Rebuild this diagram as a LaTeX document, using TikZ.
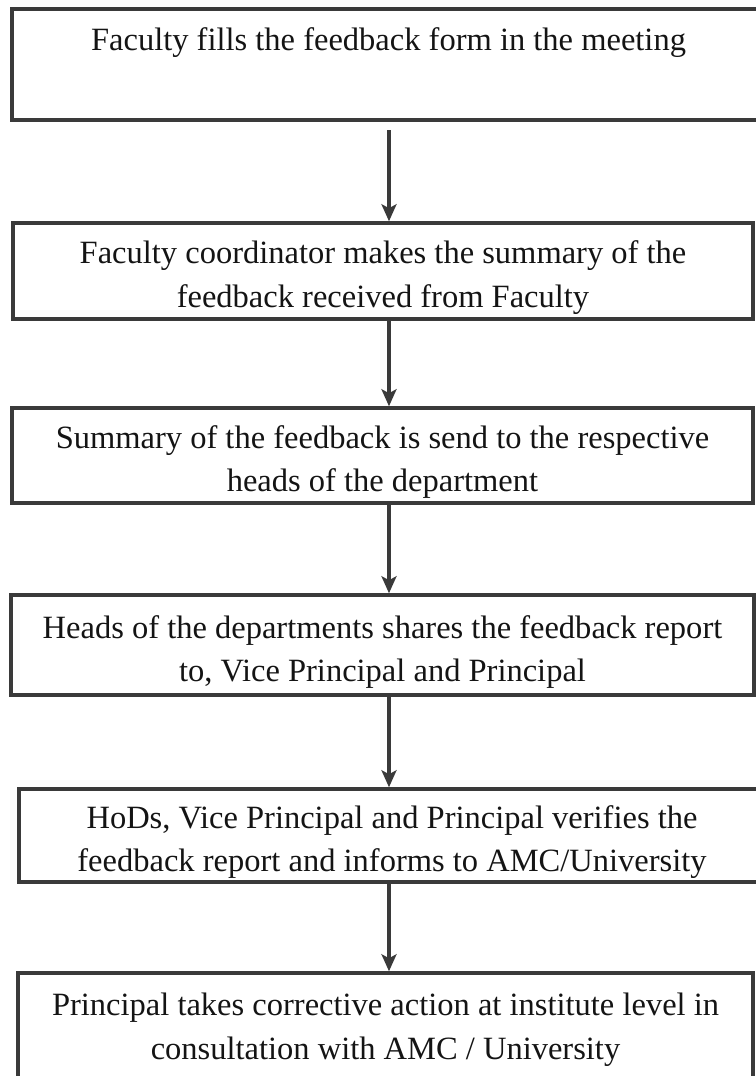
\documentclass[tikz,border=0pt]{standalone}
\usepackage{fontspec}
\setmainfont{Liberation Serif}
\usetikzlibrary{arrows.meta}
\definecolor{inkgray}{HTML}{3A3A3A}
\newcommand{\upstrut}{\rule{0pt}{0.72cm}}

\begin{document}
\begin{tikzpicture}[x=0.02cm,y=-0.02cm,>={Stealth[length=0.34cm,width=0.3cm,inset=0.08cm]}]
  \tikzstyle{stepbox}=[rectangle,draw=inkgray,line width=2pt,text=black!92,
                       align=center,inner sep=0pt,
                       font=\fontsize{18.5}{24.5}\selectfont]
  \tikzstyle{flow}=[->,draw=inkgray,line width=1.8pt]
  \useasboundingbox (0,0) rectangle (755,1076);
  \node [stepbox,minimum width=15.06cm,minimum height=2.22cm] (form) at (388.5,64.5)
    {Faculty fills the feedback form in the meeting\\[0.16cm] \mbox{}};
  \node [stepbox,minimum width=14.8cm,minimum height=1.92cm] (summary) at (383,271)
    {\upstrut Faculty coordinator makes the summary of the\\feedback received from Faculty};
  \node [stepbox,minimum width=14.82cm,minimum height=1.9cm] (send) at (382.5,455.5)
    {\upstrut Summary of the feedback is send to the respective\\heads of the department};
  \node [stepbox,minimum width=14.86cm,minimum height=2cm] (share) at (382.5,645)
    {\upstrut Heads of the departments shares the feedback report\\to, Vice Principal and Principal};
  \node [stepbox,minimum width=14.92cm,minimum height=1.86cm] (verify) at (392,835.5)
    {\upstrut HoDs, Vice Principal and Principal verifies the\\feedback report and informs to AMC/University};
  \node [stepbox,minimum width=14.7cm,minimum height=2.72cm] (action) at (385.5,1041)
    {\upstrut Principal takes corrective action at institute level in\\consultation with AMC / University\\ \mbox{}};
  \coordinate (ax) at (389,0);
  \coordinate (start) at (389,130);
  \draw [flow] (start) -- (summary.north -| ax);
  \draw [flow] (summary.south -| ax) -- (send.north -| ax);
  \draw [flow] (send.south -| ax) -- (share.north -| ax);
  \draw [flow] (share.south -| ax) -- (verify.north -| ax);
  \draw [flow] (verify.south -| ax) -- (action.north -| ax);
\end{tikzpicture}
\end{document}
